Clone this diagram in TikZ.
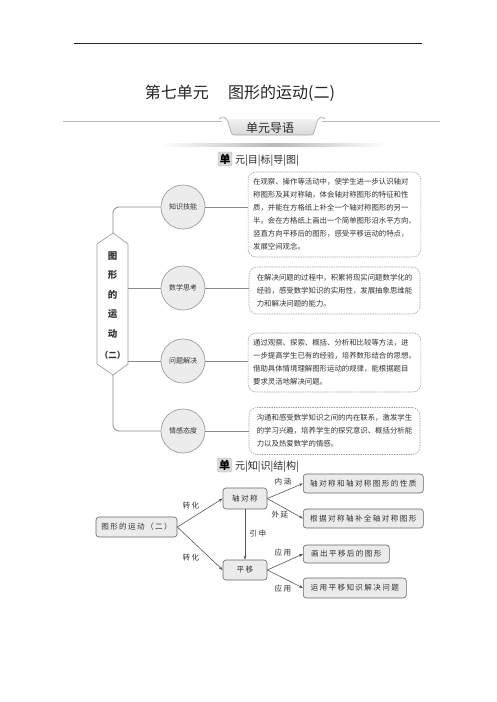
\documentclass[tikz,border=0pt]{standalone}
\usepackage{fontspec}
\setmainfont{Noto Sans CJK SC}
\newfontfamily\cjk{Noto Sans CJK SC}
\newfontfamily\cjksp[LetterSpace=18]{Noto Sans CJK SC}
\usetikzlibrary{arrows.meta,shapes.geometric}
\definecolor{txt}{HTML}{333333}
\definecolor{lin}{HTML}{8A8A8A}
\tikzset{
  conn/.style={draw=lin, line width=0.8pt},
  circ/.style={circle, draw=gray!75, fill=gray!15, line width=0.7pt, minimum size=44pt, inner sep=0pt, text=txt, font=\cjk\fontsize{7}{8}\selectfont},
  dbox/.style={draw=gray!75, line width=0.6pt, dash pattern=on 1.4pt off 1pt, rounded corners=8pt, fill=white, align=left, text=txt, inner xsep=5pt, inner ysep=3pt, font=\cjk\fontsize{7.4}{13}\selectfont},
  sbox/.style={draw=gray!80!black, line width=0.6pt, fill=gray!16, rounded corners=3pt, text=txt, inner sep=1pt, font=\cjksp\fontsize{7.6}{9}\selectfont},
  arr/.style={draw=gray!70!black, line width=0.6pt, -{Stealth[length=4pt,width=3pt]}},
  lbl/.style={text=txt, inner sep=0pt, font=\cjksp\fontsize{7.6}{9}\selectfont},
  danbox/.style={draw=gray!60, fill=gray!30, rounded corners=1.5pt, minimum size=14pt, inner sep=0pt, font=\cjk\bfseries\fontsize{11}{11}\selectfont},
  headtxt/.style={anchor=west, inner sep=0pt, text=black!85, font=\cjk\fontsize{10}{10}\selectfont}
}
\begin{document}
\begin{tikzpicture}[x=1pt,y=-1pt]
\useasboundingbox[fill=white] (0,0) rectangle (496,702);

% top rule and title
\draw[line width=0.9pt, black!85] (74,43) -- (422,43);
\node[text=black!85, font=\cjk\fontsize{16}{16}\selectfont] (title) at (240,93) {第七单元\hspace{1.2em}图形的运动(二)};

% banner
\draw[gray!55, line width=0.6pt] (63,121) -- (222,121);
\draw[gray!55, line width=0.6pt] (322,121) -- (440,121);
\shade[left color=white, right color=white, middle color=gray!55] (160,143) rectangle (388,146.5);
\path[draw=gray!70, line width=0.6pt, top color=gray!6, bottom color=gray!30]
  (219,119) .. controls (223,115) and (226,117) .. (228,122) -- (231,132)
  .. controls (232,135) .. (235,135) -- (310,135) .. controls (313,135) .. (314,132)
  -- (317,122) .. controls (319,117) and (322,115) .. (325,119);
\node[text=black!85, font=\cjk\fontsize{12}{12}\selectfont] (banner) at (270,127.5) {单元导语};

% heading 1
\node[danbox] (dan1) at (225,159) {单};
\node[headtxt] (head1) at (235,160.5) {元|目|标|导|图|};

% hexagon
\coordinate (hexT) at (113,233);
\coordinate (hexB) at (113,375);
\draw[draw=gray!75, line width=0.7pt, fill=white] (hexT) -- (128,244) -- (128,364) -- (hexB) -- (97,364) -- (97,244) -- cycle;
\node[align=center, text=txt, inner sep=0pt, font=\cjk\bfseries\fontsize{9.5}{19.5}\selectfont, anchor=north] (hextext) at (112.5,251.5) {图\\形\\的\\运\\动};
\node[text=txt, inner sep=0pt, font=\cjk\bfseries\fontsize{8.5}{9}\selectfont] (hexpar) at (112.5,355.5) {（二）};
\coordinate (hexR1) at (128,288);
\coordinate (hexR2) at (128,361);

% circles
\node[circ] (c1) at (183,207) {知识技能};
\node[circ] (c2) at (183,288) {数学思考};
\node[circ] (c3) at (183,361) {问题解决};
\node[circ] (c4) at (183,431) {情感态度};

% description boxes
\node[dbox, minimum width=171pt, minimum height=85pt] (b1) at (334.5,214.5) {在观察、操作等活动中，使学生进一步认识轴对\\称图形及其对称轴，体会轴对称图形的特征和性\\质，并能在方格纸上补全一个轴对称图形的另一\\半。会在方格纸上画出一个简单图形沿水平方向、\\竖直方向平移后的图形，感受平移运动的特点，\\发展空间观念。};
\node[dbox, minimum width=171pt, minimum height=47pt] (b2) at (334.5,290.5) {在解决问题的过程中，积累将现实问题数学化的\\经验，感受数学知识的实用性，发展抽象思维能\\力和解决问题的能力。};
\node[dbox, minimum width=171pt, minimum height=59pt] (b3) at (334.5,362.5) {通过观察、探索、概括、分析和比较等方法，进\\一步提高学生已有的经验，培养数形结合的思想。\\借助具体情境理解图形运动的规律，能根据题目\\要求灵活地解决问题。};
\node[dbox, minimum width=171pt, minimum height=47pt] (b4) at (334.5,431) {沟通和感受数学知识之间的内在联系，激发学生\\的学习兴趣，培养学生的探究意识、概括分析能\\力以及热爱数学的情感。};

% connectors
\draw[conn, rounded corners=6pt] (hexT) |- (c1.west);
\draw[conn] (hexR1) -- (c2.west);
\draw[conn] (hexR2) -- (c3.west);
\draw[conn, rounded corners=6pt] (hexB) |- (c4.west);
\draw[conn] (c1.east) -- (c1.east -| b1.west);
\draw[conn] (c2.east) -- (c2.east -| b2.west);
\draw[conn] (c3.east) -- (c3.east -| b3.west);
\draw[conn] (c4.east) -- (c4.east -| b4.west);

% heading 2
\node[danbox] (dan2) at (224.5,465) {单};
\node[headtxt] (head2) at (235,466.5) {元|知|识|结|构|};

% structure
\node[sbox, minimum width=81pt, minimum height=20pt] (root) at (136.5,527) {图形的运动（二）};
\node[sbox, minimum width=44pt, minimum height=21pt] (zdc) at (245,498.5) {轴对称};
\node[sbox, minimum width=44pt, minimum height=20pt] (py) at (245,570) {平移};
\node[sbox, anchor=west, minimum width=120pt, minimum height=19pt] (ba) at (303,483.5) {轴对称和轴对称图形的性质};
\node[sbox, anchor=west, minimum width=120pt, minimum height=19pt] (bb) at (303,518.5) {根据对称轴补全轴对称图形};
\node[sbox, anchor=west, minimum width=86pt, minimum height=18pt] (bc) at (303,554) {画出平移后的图形};
\node[sbox, anchor=west, minimum width=103pt, minimum height=20pt] (bd) at (303,588) {运用平移知识解决问题};

\draw[arr] (root.east) -- (zdc.west);
\draw[arr] (root.east) -- (py.west);
\draw[arr] (zdc.south) -- (py.north);
\draw[arr] (zdc.east) -- (ba.west);
\draw[arr] (zdc.east) -- (bb.west);
\draw[arr] (py.east) -- (bc.west);
\draw[arr] (py.east) -- (bd.west);

\node[lbl] (l1) at (191,506) {转化};
\node[lbl] (l2) at (191,558) {转化};
\node[lbl] (l3) at (258,534) {引申};
\node[lbl] (l4) at (283,482) {内涵};
\node[lbl] (l5) at (280,515) {外延};
\node[lbl] (l6) at (283,553) {应用};
\node[lbl] (l7) at (283,589) {应用};
\end{tikzpicture}
\end{document}
